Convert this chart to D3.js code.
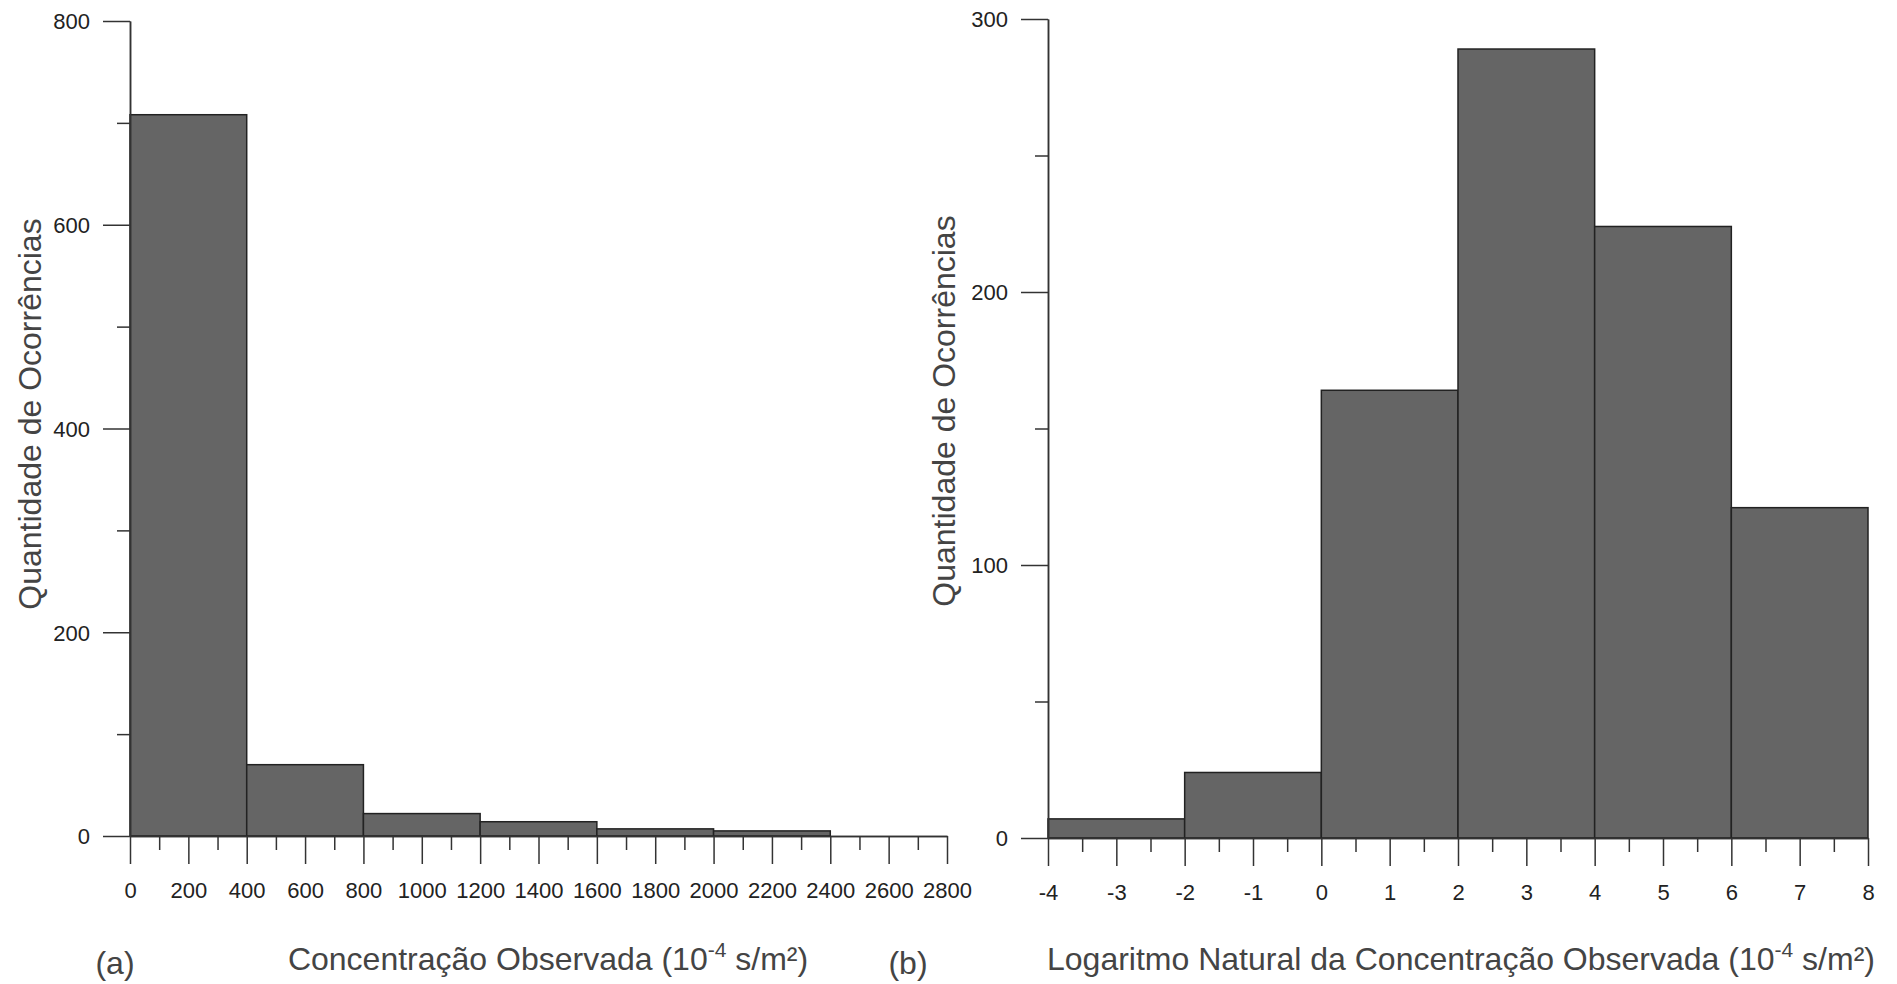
<!DOCTYPE html>
<html lang="en">
  <head>
  <meta charset="utf-8"/>
    <script type="text/javascript" src="https://cdnjs.cloudflare.com/ajax/libs/d3/7.8.5/d3.min.js"></script>
    <style>
      body { margin: 0; background: #fff; }
      text { font-family: "Liberation Sans", Arial, sans-serif; }
    </style>
  </head>
  <body>
<svg class="fillmeup"></svg>
    <script type="text/javascript">

// histogram (a): bins of observed concentration
var binsA = [0, 400, 800, 1200, 1600, 2000, 2400];
var countsA = [708, 70, 22, 14, 7, 5];
var ticksA = [0, 200, 400, 600, 800, 1000, 1200, 1400, 1600, 1800, 2000, 2200, 2400, 2600, 2800];
var yTicksA = [0, 200, 400, 600, 800];

// histogram (b): bins of ln(concentration)
var binsB = [-4, -2, 0, 2, 4, 6, 8];
var countsB = [7, 24, 164, 289, 224, 121];
var ticksB = [-4, -3, -2, -1, 0, 1, 2, 3, 4, 5, 6, 7, 8];
var yTicksB = [0, 100, 200, 300];

var width = 1897, height = 984;
var svg = d3.select('.fillmeup').attr('width', width).attr('height', height);

// plain hyphen for negatives, like the original figure
var fmt = function(d) { return String(d); };

function histogram(opt) {
  var x = d3.scaleLinear().domain(opt.xDomain).range(opt.xRange);
  var y = d3.scaleLinear().domain(opt.yDomain).range(opt.yRange);
  var g = svg.append('g');

  // bars
  var bars = opt.counts.map(function(c, i) { return {x0: opt.bins[i], x1: opt.bins[i + 1], n: c}; });
  g.selectAll('rect.bar').data(bars).enter().append('rect')
    .attr('class', 'bar')
    .attr('x', function(d) { return x(d.x0); })
    .attr('width', function(d) { return x(d.x1) - x(d.x0); })
    .attr('y', function(d) { return y(d.n); })
    .attr('height', function(d) { return y(0) - y(d.n); })
    .attr('fill', '#656565')
    .attr('stroke', '#222')
    .attr('stroke-width', 1.5);

  // minor ticks (halfway between labelled ticks)
  var xMinor = [];
  for (var i = 0; i < opt.xTicks.length - 1; i++) xMinor.push((opt.xTicks[i] + opt.xTicks[i + 1]) / 2);
  var yMinor = [];
  for (var j = 0; j < opt.yTicks.length - 1; j++) yMinor.push((opt.yTicks[j] + opt.yTicks[j + 1]) / 2);

  g.append('g').attr('transform', 'translate(0,' + y(0) + ')')
    .call(d3.axisBottom(x).tickValues(xMinor).tickSize(14).tickSizeOuter(0).tickFormat(''));
  g.append('g').attr('transform', 'translate(' + x(opt.xDomain[0]) + ',0)')
    .call(d3.axisLeft(y).tickValues(yMinor).tickSize(13).tickSizeOuter(0).tickFormat(''));

  var xAxis = g.append('g').attr('transform', 'translate(0,' + y(0) + ')')
    .call(d3.axisBottom(x).tickValues(opt.xTicks).tickSize(28).tickSizeOuter(0).tickFormat(fmt));
  xAxis.selectAll('text').attr('y', 62).attr('dy', null);

  var yAxis = g.append('g').attr('transform', 'translate(' + x(opt.xDomain[0]) + ',0)')
    .call(d3.axisLeft(y).tickValues(opt.yTicks).tickSize(27).tickSizeOuter(0).tickFormat(fmt));
  yAxis.selectAll('text').attr('x', -40).attr('dy', '0.36em');

  g.selectAll('.domain, .tick line').attr('stroke', '#333').attr('stroke-width', 1.5);
  g.selectAll('.tick text').attr('font-size', 22).attr('fill', '#222')
    .style('font-family', '"Liberation Sans", Arial, sans-serif');

  // y title
  g.append('text')
    .attr('transform', 'translate(' + opt.yTitleX + ',' + opt.yTitleY + ') rotate(-90)')
    .attr('text-anchor', 'middle').attr('dy', '0.35em')
    .attr('font-size', 32).attr('fill', '#444')
    .text('Quantidade de Ocorrências');

  // x title with superscript
  var t = g.append('text')
    .attr('x', opt.xTitleX).attr('y', 970)
    .attr('text-anchor', 'middle')
    .attr('font-size', 32).attr('fill', '#444');
  t.append('tspan').text(opt.xTitle + ' (10');
  t.append('tspan').attr('font-size', 21).attr('dy', -13).text('-4');
  t.append('tspan').attr('dy', 13).text(' s/m²)');

  // panel letter
  g.append('text').attr('x', opt.letterX).attr('y', 974)
    .attr('text-anchor', 'middle').attr('font-size', 32).attr('fill', '#444')
    .text(opt.letter);
}

histogram({
  bins: binsA, counts: countsA, xTicks: ticksA, yTicks: yTicksA,
  xDomain: [0, 2800], xRange: [130, 947],
  yDomain: [0, 800], yRange: [836, 21],
  yTitleX: 30, yTitleY: 414, xTitleX: 548, xTitle: 'Concentração Observada',
  letter: '(a)', letterX: 115
});

histogram({
  bins: binsB, counts: countsB, xTicks: ticksB, yTicks: yTicksB,
  xDomain: [-4, 8], xRange: [1048, 1868],
  yDomain: [0, 300], yRange: [838, 19],
  yTitleX: 944, yTitleY: 411, xTitleX: 1461, xTitle: 'Logaritmo Natural da Concentração Observada',
  letter: '(b)', letterX: 908
});

    </script>
  </body>
</html>
